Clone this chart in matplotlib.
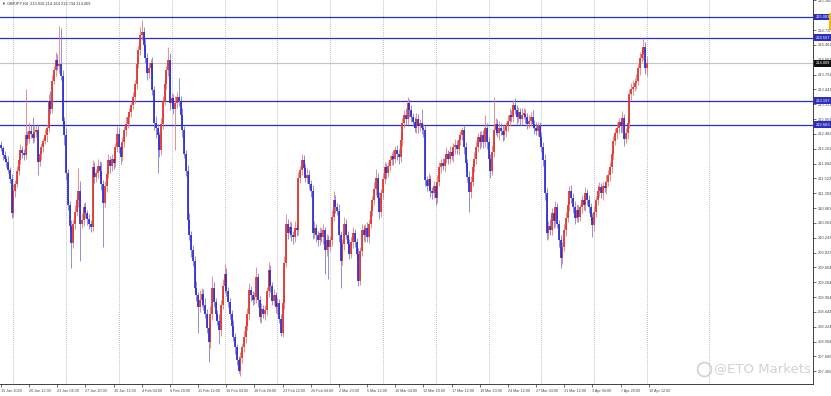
import matplotlib
matplotlib.use("Agg")
import matplotlib.pyplot as plt
import matplotlib.transforms as mtransforms
from matplotlib.lines import Line2D
from matplotlib.patches import Rectangle
import numpy as np

plt.rcParams["font.family"] = ["Liberation Sans", "DejaVu Sans"]

SYMBOL = "GBPJPY,H4"
LAST_OHLC = (213.910, 214.164, 213.734, 214.009)
FIRST_OPEN = 212.25

# H4 closes, one per bar (15 Jan 20:00 .. 13 Apr 00:00)
closes = [
    212.17, 212.02, 211.95, 211.88, 211.70, 211.52, 210.78, 211.25, 211.40, 211.69,
    211.92, 212.13, 212.08, 212.02, 212.45, 212.38, 212.55, 212.48, 212.40, 212.52,
    212.56, 211.87, 212.05, 212.19, 212.33, 212.45, 212.62, 213.20, 213.03, 213.63,
    213.85, 214.07, 213.95, 214.00, 213.74, 212.77, 212.45, 211.63, 210.94, 210.50,
    210.12, 210.55, 210.80, 211.05, 211.26, 210.55, 210.62, 210.90, 210.77, 210.65,
    210.55, 210.47, 211.76, 211.55, 211.63, 211.80, 211.69, 211.40, 211.00, 211.35,
    211.62, 211.91, 211.78, 211.95, 211.85, 212.20, 212.49, 212.20, 211.98, 212.30,
    212.56, 212.70, 212.84, 212.95, 213.10, 213.27, 213.55, 214.00, 214.30, 214.61,
    214.67, 214.40, 214.13, 213.79, 213.90, 214.02, 213.42, 212.71, 212.60, 212.45,
    212.13, 212.70, 213.20, 213.55, 213.85, 214.07, 213.14, 213.25, 213.03, 213.15,
    213.27, 213.20, 212.90, 212.56, 212.06, 211.69, 210.62, 210.30, 209.97, 209.75,
    209.17, 209.00, 208.74, 208.90, 209.04, 208.80, 208.61, 208.30, 207.99, 208.60,
    209.17, 208.85, 208.61, 208.45, 208.25, 208.80, 209.20, 209.47, 209.10, 208.85,
    208.61, 208.35, 208.10, 207.88, 207.60, 207.38, 207.65, 207.88, 208.10, 208.35,
    208.61, 209.11, 209.00, 208.90, 208.96, 209.39, 208.90, 208.53, 208.70, 208.60,
    208.68, 209.10, 209.54, 209.20, 208.89, 209.00, 208.75, 208.83, 208.50, 208.20,
    208.83, 209.70, 210.55, 210.35, 210.47, 210.30, 210.25, 210.45, 210.40, 211.54,
    211.70, 211.91, 211.75, 211.54, 211.60, 211.40, 211.26, 210.34, 210.45, 210.30,
    210.19, 210.35, 210.25, 210.40, 209.97, 210.20, 210.05, 210.19, 210.70, 211.05,
    210.90, 210.83, 210.30, 209.75, 210.10, 210.55, 210.30, 210.10, 209.90, 210.15,
    210.34, 210.15, 209.90, 209.32, 209.95, 210.40, 210.30, 210.45, 210.25, 210.55,
    210.83, 211.05, 211.30, 211.54, 211.10, 210.79, 211.20, 211.50, 211.76, 211.65,
    211.80, 211.91, 212.00, 211.95, 212.13, 212.05, 211.98, 212.35, 212.71, 212.90,
    212.80, 213.14, 212.99, 212.85, 212.75, 212.62, 212.80, 212.65, 212.71, 212.60,
    212.56, 211.48, 211.35, 211.50, 211.26, 211.20, 211.35, 211.11, 211.45, 211.76,
    211.85, 211.80, 211.95, 212.06, 211.95, 212.10, 212.00, 212.19, 212.25, 212.15,
    212.35, 212.45, 212.56, 212.20, 211.85, 211.55, 211.22, 211.45, 211.76, 211.95,
    212.20, 212.41, 212.30, 212.45, 212.30, 212.62, 212.30, 211.95, 211.69, 212.10,
    212.56, 212.70, 212.50, 212.62, 212.55, 212.45, 212.55, 212.65, 212.77, 212.90,
    212.85, 213.10, 213.00, 212.84, 212.95, 212.80, 212.90, 212.92, 212.85, 212.70,
    212.77, 212.85, 212.70, 212.62, 212.55, 212.65, 212.41, 212.20, 211.91, 211.20,
    210.34, 210.50, 210.40, 210.77, 210.60, 210.90, 210.55, 210.19, 209.80, 210.05,
    210.40, 210.68, 210.95, 211.26, 211.10, 210.90, 210.68, 210.85, 210.70, 210.90,
    211.05, 210.95, 211.20, 211.05, 210.90, 210.70, 210.51, 210.80, 211.05, 211.25,
    211.33, 211.20, 211.35, 211.31, 211.45, 211.60, 211.76, 212.05, 212.34, 212.50,
    212.60, 212.73, 212.65, 212.82, 212.38, 212.50, 212.71, 213.35, 213.45, 213.50,
    213.57, 213.63, 213.90, 214.13, 214.20, 214.35, 213.91, 214.009,
]

# wick length above / below the body, in yen
upper_wicks = [
    0.08, 0.06, 0.10, 0.05, 0.12, 0.07, 0.09, 0.15, 0.08, 0.11,
    0.06, 0.14, 0.09, 0.07, 1.01, 0.10, 0.18, 0.12, 0.36, 0.15,
    0.09, 0.12, 0.07, 0.10, 0.06, 0.13, 0.08, 0.15, 0.20, 0.12,
    0.10, 0.18, 0.14, 0.82, 0.76, 0.12, 0.08, 0.15, 0.10, 0.09,
    0.12, 0.08, 0.14, 0.10, 0.48, 0.20, 0.15, 0.09, 0.12, 0.07,
    0.10, 0.08, 0.16, 0.12, 0.09, 0.14, 0.10, 0.18, 0.08, 0.12,
    0.07, 0.15, 0.10, 0.09, 0.13, 0.08, 0.16, 0.11, 0.07, 0.12,
    0.09, 0.14, 0.08, 0.10, 0.06, 0.12, 0.09, 0.15, 0.10, 0.18,
    0.26, 0.12, 0.15, 0.10, 0.14, 0.08, 0.12, 0.09, 0.15, 0.10,
    0.08, 0.12, 0.10, 0.14, 0.09, 0.28, 0.15, 0.12, 0.10, 0.16,
    0.12, 0.41, 0.09, 0.14, 0.10, 0.08, 0.12, 0.15, 0.09, 0.11,
    0.10, 0.14, 0.08, 0.22, 0.12, 0.10, 0.15, 0.09, 0.12, 0.18,
    0.25, 0.12, 0.10, 0.08, 0.14, 0.10, 0.15, 0.20, 0.12, 0.09,
    0.10, 0.08, 0.12, 0.09, 0.07, 0.10, 0.12, 0.08, 0.14, 0.10,
    0.12, 0.15, 0.10, 0.09, 0.12, 0.22, 0.10, 0.08, 0.14, 0.10,
    0.12, 0.09, 0.18, 0.12, 0.10, 0.14, 0.08, 0.12, 0.10, 0.09,
    0.12, 0.15, 0.20, 0.10, 0.14, 0.12, 0.08, 0.15, 0.10, 0.12,
    0.10, 0.15, 0.12, 0.09, 0.14, 0.10, 0.08, 0.12, 0.15, 0.10,
    0.09, 0.12, 0.10, 0.14, 0.08, 0.12, 0.10, 0.09, 0.15, 0.20,
    0.12, 0.10, 0.14, 0.08, 0.12, 0.15, 0.10, 0.09, 0.12, 0.10,
    0.14, 0.10, 0.08, 0.12, 0.10, 0.15, 0.12, 0.09, 0.14, 0.10,
    0.12, 0.09, 0.15, 0.18, 0.10, 0.12, 0.09, 0.14, 0.12, 0.10,
    0.08, 0.12, 0.10, 0.14, 0.09, 0.12, 0.10, 0.15, 0.12, 0.10,
    0.14, 0.13, 0.10, 0.12, 0.08, 0.10, 0.14, 0.12, 0.10, 0.30,
    0.10, 0.12, 0.09, 0.14, 0.10, 0.08, 0.12, 0.10, 0.15, 0.12,
    0.09, 0.12, 0.10, 0.14, 0.08, 0.12, 0.10, 0.09, 0.12, 0.10,
    0.14, 0.10, 0.08, 0.12, 0.10, 0.09, 0.14, 0.12, 0.10, 0.15,
    0.12, 0.10, 0.14, 0.09, 0.12, 0.28, 0.10, 0.12, 0.09, 0.14,
    0.71, 0.12, 0.10, 0.14, 0.09, 0.12, 0.10, 0.08, 0.12, 0.14,
    0.10, 0.12, 0.15, 0.10, 0.12, 0.09, 0.14, 0.12, 0.10, 0.08,
    0.12, 0.10, 0.14, 0.09, 0.12, 0.10, 0.08, 0.12, 0.10, 0.14,
    0.12, 0.10, 0.15, 0.12, 0.09, 0.14, 0.10, 0.08, 0.12, 0.10,
    0.14, 0.12, 0.10, 0.09, 0.12, 0.10, 0.14, 0.12, 0.10, 0.08,
    0.12, 0.10, 0.14, 0.09, 0.12, 0.10, 0.08, 0.12, 0.10, 0.14,
    0.12, 0.10, 0.09, 0.12, 0.14, 0.10, 0.12, 0.08, 0.10, 0.12,
    0.14, 0.10, 0.12, 0.15, 0.10, 0.12, 0.14, 0.10, 0.12, 0.15,
    0.12, 0.14, 0.10, 0.12, 0.15, 0.19, 0.12, 0.155,
]

lower_wicks = [
    0.06, 0.10, 0.08, 0.12, 0.07, 0.09, 0.10, 0.08, 0.12, 0.06,
    0.10, 0.08, 0.12, 0.09, 0.07, 0.14, 0.10, 0.08, 0.12, 0.09,
    0.10, 0.27, 0.08, 0.12, 0.10, 0.07, 0.14, 0.09, 0.12, 0.10,
    0.08, 0.12, 0.10, 0.15, 0.09, 0.12, 0.20, 0.15, 0.10, 0.12,
    0.52, 0.10, 0.12, 0.08, 0.14, 0.80, 0.10, 0.12, 0.09, 0.14,
    0.12, 0.10, 0.08, 0.12, 0.10, 0.09, 0.14, 0.12, 0.96, 0.10,
    0.12, 0.08, 0.14, 0.10, 0.12, 0.09, 0.10, 0.12, 0.15, 0.08,
    0.10, 0.12, 0.09, 0.14, 0.10, 0.08, 0.12, 0.10, 0.09, 0.12,
    0.10, 0.14, 0.12, 0.15, 0.10, 0.12, 0.09, 0.14, 0.20, 0.82,
    0.15, 0.10, 0.12, 0.09, 0.10, 0.12, 0.14, 0.10, 0.12, 0.90,
    0.10, 0.12, 0.09, 0.14, 0.10, 0.12, 0.15, 0.10, 0.14, 0.12,
    0.10, 0.12, 0.56, 0.10, 0.14, 0.12, 0.09, 0.10, 0.43, 0.12,
    0.14, 0.10, 0.12, 0.09, 0.30, 0.12, 0.10, 0.14, 0.12, 0.10,
    0.12, 0.10, 0.09, 0.14, 0.10, 0.06, 0.12, 0.10, 0.09, 0.12,
    0.10, 0.14, 0.12, 0.10, 0.09, 0.12, 0.14, 0.10, 0.12, 0.09,
    0.12, 0.10, 0.14, 0.12, 0.10, 0.09, 0.12, 0.14, 0.10, 0.08,
    0.10, 0.12, 0.09, 0.14, 0.10, 0.12, 0.15, 0.10, 0.12, 0.09,
    0.12, 0.10, 0.14, 0.09, 0.12, 0.10, 0.14, 0.12, 0.10, 0.15,
    0.12, 0.10, 0.09, 0.14, 0.50, 0.12, 0.70, 0.10, 0.12, 0.09,
    0.12, 0.10, 0.14, 0.58, 0.10, 0.12, 0.09, 0.14, 0.12, 0.10,
    0.12, 0.10, 0.14, 0.12, 0.10, 0.09, 0.12, 0.14, 0.10, 0.12,
    0.09, 0.12, 0.10, 0.14, 0.12, 0.15, 0.10, 0.12, 0.09, 0.14,
    0.10, 0.12, 0.09, 0.14, 0.10, 0.12, 0.15, 0.10, 0.12, 0.09,
    0.12, 0.10, 0.14, 0.12, 0.10, 0.09, 0.12, 0.14, 0.10, 0.12,
    0.14, 0.12, 0.10, 0.09, 0.14, 0.12, 0.10, 0.15, 0.12, 0.10,
    0.12, 0.09, 0.14, 0.10, 0.12, 0.10, 0.09, 0.12, 0.14, 0.10,
    0.12, 0.10, 0.09, 0.14, 0.12, 0.10, 0.42, 0.12, 0.10, 0.09,
    0.12, 0.10, 0.14, 0.09, 0.12, 0.10, 0.14, 0.12, 0.15, 0.10,
    0.12, 0.10, 0.09, 0.14, 0.10, 0.12, 0.09, 0.14, 0.10, 0.12,
    0.10, 0.12, 0.09, 0.14, 0.10, 0.12, 0.10, 0.09, 0.14, 0.12,
    0.10, 0.12, 0.09, 0.14, 0.10, 0.12, 0.14, 0.10, 0.12, 0.15,
    0.14, 0.12, 0.10, 0.09, 0.14, 0.12, 0.10, 0.15, 0.20, 0.12,
    0.10, 0.12, 0.09, 0.14, 0.10, 0.12, 0.14, 0.10, 0.12, 0.09,
    0.12, 0.10, 0.14, 0.09, 0.12, 0.10, 0.26, 0.12, 0.10, 0.09,
    0.12, 0.10, 0.14, 0.09, 0.12, 0.10, 0.14, 0.12, 0.10, 0.09,
    0.12, 0.10, 0.14, 0.12, 0.15, 0.10, 0.12, 0.09, 0.14, 0.12,
    0.10, 0.12, 0.09, 0.14, 0.10, 0.12, 0.14, 0.176,
]

date_labels = [
    "15 Jan 2026", "20 Jan 12:00", "23 Jan 04:00", "27 Jan 20:00", "30 Jan 12:00",
    "4 Feb 04:00", "6 Feb 20:00", "11 Feb 12:00", "16 Feb 04:00", "18 Feb 20:00",
    "23 Feb 12:00", "26 Feb 04:00", "2 Mar 20:00", "5 Mar 12:00", "10 Mar 04:00",
    "12 Mar 20:00", "17 Mar 12:00", "19 Mar 20:00", "24 Mar 12:00", "27 Mar 04:00",
    "31 Mar 12:00", "3 Apr 04:00", "7 Apr 20:00", "10 Apr 12:00",
]
LABEL_STEP = 16          # bars between time labels
week_starts = list(range(7, 368, 30)) + [402]   # Monday 00:00 separators

level_prices = [215.003, 214.557, 213.197, 212.683]
# 215.040 sits under the first level tag, so it is not shown
price_ticks = [
    "215.360", "214.720", "214.401", "214.081", "213.761", "213.441",
    "213.121", "212.802", "212.482", "212.162", "211.842", "211.522", "211.203",
    "210.883", "210.563", "210.243", "209.923", "209.604", "209.284", "208.964",
    "208.644", "208.324", "208.004", "207.685", "207.365",
]

BULL, BULL_WICK = "#e0302c", "#e07f7f"
BEAR, BEAR_WICK = "#2a2ad2", "#7f7fd2"
LEVEL_BLUE = "#2d2dbe"
GRID = "#9c9ca4"
LABEL = "#4a4a4a"

W, H = 831, 396
PLOT_W, PLOT_H = 813, 384
PX_PER_BAR = 1.76

c = np.array(closes)
o = np.r_[FIRST_OPEN, c[:-1]]
hi = np.maximum(o, c) + np.array(upper_wicks)
lo = np.minimum(o, c) - np.array(lower_wicks)
x = np.arange(len(c))
bull = c >= o

fig = plt.figure(figsize=(W / 100, H / 100), dpi=100, facecolor="white")
ax = fig.add_axes([0, (H - PLOT_H) / H, PLOT_W / W, PLOT_H / H])

x_left = -1 / PX_PER_BAR
ax.set_xlim(x_left, x_left + PLOT_W / PX_PER_BAR)
ax.set_ylim(207.09, 215.37)

ax.vlines(week_starts, 0, 1, transform=ax.get_xaxis_transform(), colors=GRID,
          linestyles=(0, (1, 1.6)), linewidth=0.55, zorder=0)
ax.axhline(LAST_OHLC[3], color="#c6c6c6", linewidth=0.8, zorder=0.5)
for p in level_prices:
    ax.axhline(p, color=LEVEL_BLUE, linewidth=0.9, zorder=1)

body_lo = np.minimum(o, c)
body_hi = np.maximum(np.maximum(o, c), body_lo + 0.025)
for mask, col, wcol in ((bull, BULL, BULL_WICK), (~bull, BEAR, BEAR_WICK)):
    ax.vlines(x[mask], lo[mask], hi[mask], colors=wcol, linewidth=0.6, zorder=2)
    ax.vlines(x[mask], body_lo[mask], body_hi[mask], colors=col, linewidth=1.25,
              zorder=3, capstyle="butt")

for side in ("left", "top"):
    ax.spines[side].set_visible(False)
for side in ("right", "bottom"):
    ax.spines[side].set_linewidth(0.6)
    ax.spines[side].set_color("#222222")

tick_vals = [float(t) for t in price_ticks]
ax.yaxis.tick_right()
ax.set_yticks(tick_vals)
ax.set_yticklabels(price_ticks)
ax.tick_params(axis="y", direction="out", length=2, width=0.5, pad=1.2,
               labelsize=2.9, labelcolor=LABEL, colors="#333333")

ax.set_xticks(np.arange(len(date_labels)) * LABEL_STEP)
ax.set_xticklabels(date_labels)
for lab in ax.get_xticklabels():
    lab.set_horizontalalignment("left")
ax.tick_params(axis="x", direction="out", length=2, width=0.5, pad=1.5,
               labelsize=2.7, labelcolor=LABEL, colors="#333333")

# price level tags on the scale
right = mtransforms.blended_transform_factory(ax.transAxes, ax.transData)
for p in level_prices:
    ax.text(1.003, p, f"{p:.3f}", transform=right, ha="left", va="center",
            fontsize=2.9, color="white", clip_on=False, zorder=6,
            bbox=dict(boxstyle="square,pad=0.35", fc=LEVEL_BLUE, ec="none"))
ax.text(1.003, LAST_OHLC[3], f"{LAST_OHLC[3]:.3f}", transform=right, ha="left",
        va="center", fontsize=2.9, color="white", clip_on=False, zorder=6,
        bbox=dict(boxstyle="square,pad=0.35", fc="#111111", ec="none"))

fig.text(2 / W, 1 - 4 / H, "\u25bc " + SYMBOL + "  " +
         " ".join(f"{v:.3f}" for v in LAST_OHLC),
         fontsize=2.8, color="#333333", ha="left", va="center")

fig.add_artist(Rectangle((829 / W, 1 - 30 / H), 2 / W, 17 / H,
                         transform=fig.transFigure, color="#f2b705", lw=0))

# watermark
fig.add_artist(Line2D([704 / W], [1 - 369 / H], marker="o", ms=10, mfc="none",
                      mec="#d2d2d2", mew=1.2, transform=fig.transFigure))
fig.text(714 / W, 1 - 369 / H, "@ETO Markets", fontsize=9.5, color="#d2d2d2",
         ha="left", va="center", family=["DejaVu Sans"])

fig.savefig("out.png", dpi=100, facecolor="white")
